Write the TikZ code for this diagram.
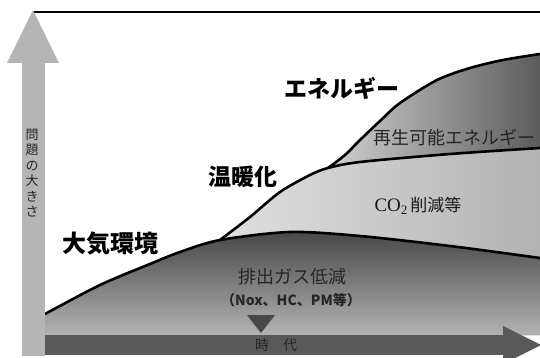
\documentclass[tikz,border=0pt]{standalone}
\usepackage{fontspec}
\setmainfont{Liberation Serif}
\newfontfamily\cjk{Noto Sans CJK JP}
\begin{document}
\begin{tikzpicture}[x=1pt,y=-1pt,
  curve/.style={line width=2.6pt, black, line join=round},
  biglabel/.style={font=\cjk\bfseries\fontsize{23}{26}\selectfont, text=black, inner sep=0pt},
  midlabel/.style={font=\cjk\fontsize{18}{20}\selectfont, text=black!85, inner sep=0pt},
  axisgray/.style={fill=black!29, draw=none},
  axisdark/.style={fill=black!65, draw=none}]
\useasboundingbox (0,0) rectangle (540,358);
% top region (energy)
\shade[left color=black!18, right color=black!64]
  plot[smooth] coordinates {(328,168) (345,155) (360,140) (380,121) (400,103) (437,80) (470,68) (503,60) (540,54)}
  -- (540,335) -- (328,335) -- cycle;
% middle region (warming)
\shade[left color=black!12, right color=black!30]
  plot[smooth] coordinates {(220,240) (250,217) (280,192) (310,175) (328,168) (360,162) (450,154) (540,148)}
  -- (540,335) -- (220,335) -- cycle;
% bottom region (air)
\shade[top color=black!72, bottom color=black!30]
  plot[smooth] coordinates {(45,314) (100,285) (150,264) (180,252) (220,240) (290,232) (360,236) (450,246) (540,258)}
  -- (540,335) -- (45,335) -- cycle;
% curves
\draw[curve] plot[smooth] coordinates {(328,168) (345,155) (360,140) (380,121) (400,103) (437,80) (470,68) (503,60) (540,54)};
\draw[curve] plot[smooth] coordinates {(220,240) (250,217) (280,192) (310,175) (328,168) (360,162) (450,154) (540,148)};
\draw[curve] plot[smooth] coordinates {(45,314) (100,285) (150,264) (180,252) (220,240) (290,232) (360,236) (450,246) (540,258)};
% top line
\coordinate (tl) at (33,12);
\coordinate (tr) at (541,12);
\draw[line width=1.5pt] (tl) -- (tr);
% vertical axis arrow
\fill[axisgray] (22,63) rectangle (45,356);
\fill[axisgray] (7,63) -- (33,10) -- (59,63) -- cycle;
% horizontal axis arrow
\fill[axisdark] (45,335) rectangle (504,355);
\fill[axisdark] (503,326) -- (541,345) -- (503,364) -- cycle;
% marker triangle
\fill[black!72] (247,315) -- (275,315) -- (261,333) -- cycle;
% labels
\node[biglabel] (en) at (342,88) {エネルギー};
\node[biglabel] (ond) at (243,177) {温暖化};
\node[biglabel,font=\cjk\bfseries\fontsize{24}{26}\selectfont] (tai) at (110,244) {大気環境};
\node[midlabel] (sai) at (454,138) {再生可能エネルギー};
\node[inner sep=0pt, text=black!90] (co) at (418,206) {\rmfamily\fontsize{19}{20}\selectfont CO\raisebox{-0.4ex}{\fontsize{13}{13}\selectfont 2}\hspace{3pt}{\cjk\fontsize{17}{20}\selectfont 削減等}};
\node[midlabel] (hai) at (292,277) {排出ガス低減};
\node[midlabel, font=\cjk\bfseries\fontsize{14}{16}\selectfont] (nox) at (291,300) {（Nox、HC、PM等）};
\node[font=\cjk\fontsize{14}{16}\selectfont, text=black!85, inner sep=0pt] (jidai) at (276,345) {時\hspace{14pt}代};
\node[font=\cjk\fontsize{13}{15.5}\selectfont, text=black!85, align=center, inner sep=0pt] (mondai) at (32,173) {問\\題\\の\\大\\き\\さ};
\end{tikzpicture}
\end{document}
